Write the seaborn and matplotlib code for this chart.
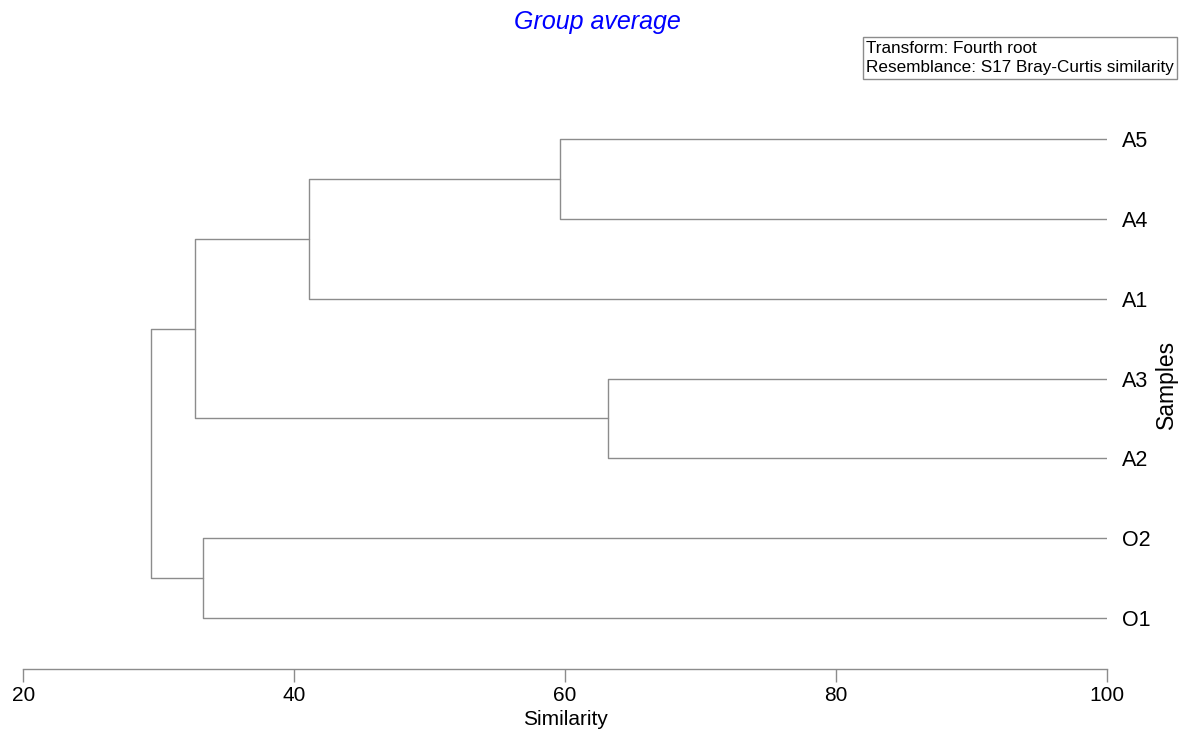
import matplotlib
matplotlib.use("Agg")
import matplotlib.pyplot as plt
import seaborn as sns
import pandas as pd

# --- data ---
leaves = ["A5", "A4", "A1", "A3", "A2", "O2", "O1"]   # top to bottom
# merges: (cluster a, cluster b, similarity at join, new cluster name)
merges = [
    ("A5", "A4", 59.6, "c1"),
    ("A3", "A2", 63.2, "c2"),
    ("c1", "A1", 41.1, "c3"),
    ("c3", "c2", 32.7, "c4"),
    ("O2", "O1", 33.3, "c5"),
    ("c4", "c5", 29.4, "root"),
]
x_ticks = [20, 40, 60, 80, 100]

# --- build dendrogram segments ---
pos = {}
n = len(leaves)
for i, name in enumerate(leaves):
    pos[name] = (100.0, n - 1 - i)

rows = []
seg = 0
for a, b, sim, new in merges:
    xa, ya = pos[a]
    xb, yb = pos[b]
    # horizontal from child a, vertical join, horizontal to child b
    for x, y in [(xa, ya), (sim, ya), (sim, yb), (xb, yb)]:
        rows.append({"x": x, "y": y, "seg": seg})
    seg += 1
    pos[new] = (sim, (ya + yb) / 2)
df = pd.DataFrame(rows)

sns.set_style("white")
plt.rcParams["font.family"] = ["Liberation Sans", "DejaVu Sans"]
plt.rcParams["text.color"] = "black"
plt.rcParams["axes.labelcolor"] = "black"
plt.rcParams["xtick.color"] = "black"
plt.rcParams["ytick.color"] = "black"

fig = plt.figure(figsize=(11.84, 7.31), dpi=100)
ax = fig.add_axes([23.3 / 1184, 1 - 669 / 731, (1107 - 23.3) / 1184, (669 - 100) / 731])

sns.lineplot(data=df, x="x", y="y", units="seg", estimator=None, sort=False,
             color="#8c8c8c", linewidth=1.0, ax=ax, legend=False)

ax.set_xlim(20, 100)
ax.set_ylim(-51 / 80, n - 1 + 39 / 80)

ax.set_xticks(x_ticks)
ax.set_xticklabels([str(t) for t in x_ticks], fontsize=15)
ax.tick_params(axis="x", direction="out", length=9, width=1, color="#8c8c8c",
               labelcolor="black", pad=3, bottom=True)
ax.set_xlabel("Similarity", fontsize=15, labelpad=4)

ax.yaxis.tick_right()
ax.yaxis.set_label_position("right")
ax.set_yticks([n - 1 - i for i in range(n)])
ax.set_yticklabels(leaves, fontsize=15.5)
ax.tick_params(axis="y", length=0, pad=11, labelcolor="black")
ax.set_ylabel("Samples", fontsize=16.5, labelpad=3)

for side in ["top", "left", "right"]:
    ax.spines[side].set_visible(False)
ax.spines["bottom"].set_color("#8c8c8c")
ax.spines["bottom"].set_linewidth(1)

fig.text(597 / 1184, 1 - 22 / 731, "Group average", color="blue", style="italic",
         fontsize=18, ha="center", va="center")

fig.text(866 / 1184, 1 - 58 / 731,
         "Transform: Fourth root\nResemblance: S17 Bray-Curtis similarity",
         fontsize=12.3, ha="left", va="center", linespacing=1.4,
         bbox=dict(boxstyle="square,pad=0.2", facecolor="white", edgecolor="#8c8c8c", linewidth=1))

fig.savefig("out.png", dpi=100)
